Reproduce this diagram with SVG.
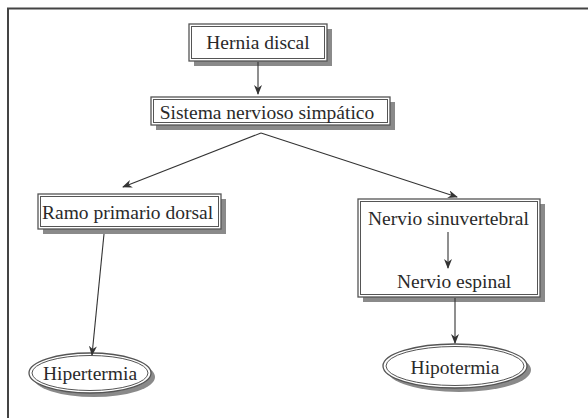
<svg xmlns="http://www.w3.org/2000/svg" width="588" height="418" viewBox="0 0 588 418">
<defs>
<style>
.sh{fill:#8a8a8a;stroke:none}
.o{fill:#fff;stroke:#555;stroke-width:1.3}
.i{fill:none;stroke:#555;stroke-width:1}
.t{font-family:"Liberation Serif","Times New Roman",serif;font-size:19.5px;fill:#2a2a2a}
.c{stroke:#333;stroke-width:1.1;fill:none;marker-end:url(#ah)}
</style>
<marker id="ah" markerWidth="10" markerHeight="8" refX="9" refY="4" orient="auto" markerUnits="userSpaceOnUse">
<path d="M0,0 L10,4 L0,8 L3,4 Z" fill="#333"/>
</marker>
</defs>
<rect width="588" height="418" fill="#fff"/>
<path d="M8,418 V8.5 H588" fill="none" stroke="#444" stroke-width="2"/>
<g id="hernia">
<rect class="sh" x="194" y="29" width="138" height="37"/>
<rect class="o" x="189" y="24" width="138" height="37"/>
<rect class="i" x="191.5" y="26.5" width="133" height="32"/>
<text class="t" x="258" y="49" text-anchor="middle">Hernia discal</text>
</g>
<g id="sistema">
<rect class="sh" x="156" y="102" width="239" height="28"/>
<rect class="o" x="151" y="97" width="239" height="28"/>
<rect class="i" x="153.5" y="99.5" width="234" height="23"/>
<text class="t" x="267" y="119" text-anchor="middle">Sistema nervioso simpático</text>
</g>
<g id="ramo">
<rect class="sh" x="43" y="199" width="183" height="35"/>
<rect class="o" x="38" y="194" width="183" height="35"/>
<rect class="i" x="40.5" y="196.5" width="178" height="30"/>
<text class="t" x="42" y="219">Ramo primario dorsal</text>
</g>
<g id="nervio">
<rect class="sh" x="363" y="204" width="182" height="98"/>
<rect class="o" x="358" y="199" width="182" height="98"/>
<rect class="i" x="360.5" y="201.5" width="177" height="93"/>
<text class="t" x="368" y="225">Nervio sinuvertebral</text>
<text class="t" x="397" y="288">Nervio espinal</text>
</g>
<g id="hipertermia">
<ellipse class="sh" cx="94" cy="377" rx="61" ry="20"/>
<ellipse class="o" cx="90" cy="373" rx="61" ry="20"/>
<ellipse class="i" cx="90" cy="373" rx="58" ry="17.5"/>
<text class="t" x="90" y="380" text-anchor="middle">Hipertermia</text>
</g>
<g id="hipotermia">
<ellipse class="sh" cx="459" cy="370" rx="72" ry="22"/>
<ellipse class="o" cx="455" cy="366" rx="72" ry="22"/>
<ellipse class="i" cx="455" cy="366" rx="69" ry="19.5"/>
<text class="t" x="455" y="374" text-anchor="middle">Hipotermia</text>
</g>
<g id="connectors">
<line class="c" x1="258" y1="62" x2="258" y2="94"/>
<line class="c" x1="261" y1="133" x2="123" y2="187"/>
<line class="c" x1="261" y1="133" x2="457" y2="197"/>
<line class="c" x1="448" y1="232" x2="448" y2="268"/>
<line class="c" x1="104" y1="234" x2="92" y2="355"/>
<line class="c" x1="455" y1="298" x2="455" y2="343"/>
</g>
</svg>
